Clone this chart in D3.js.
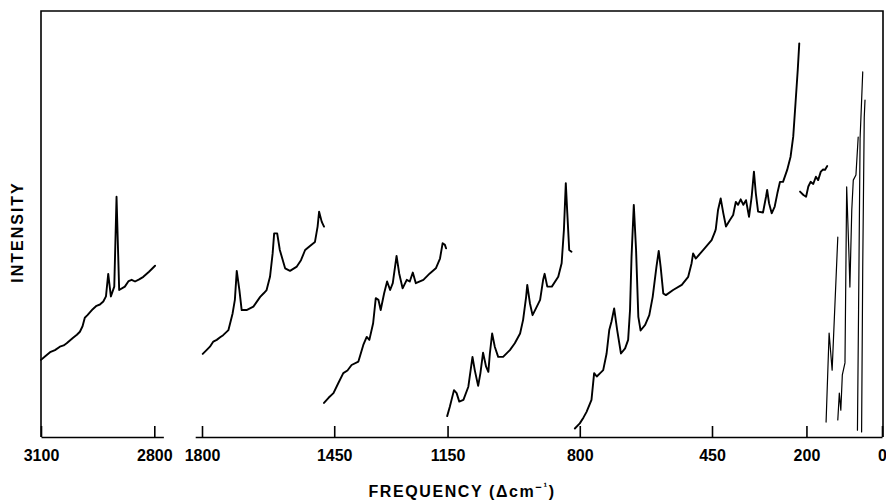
<!DOCTYPE html>
<html>
<head>
<meta charset="utf-8">
<script src="https://cdn.jsdelivr.net/npm/d3@7"></script>
<style>
  body { margin: 0; background: #fff; }
  svg { display: block; }
  .axis text { font-family: "Liberation Sans Narrow", "Arial Narrow", "Liberation Sans", sans-serif; font-weight: bold; font-size: 16px; fill: #000; }
  .axis path, .axis line { stroke: #000; stroke-width: 1.6px; }
  .title { font-family: "Liberation Sans", Arial, sans-serif; font-weight: bold; font-size: 16px; fill: #000; }
</style>
</head>
<body>
<svg id="chart" width="886" height="501"></svg>
<script>
// Raman spectrum, broken frequency axis (Δcm-1), intensity in arbitrary units (0-100)

// tick labels of the two axis pieces
const ticksHigh = [3100, 2800];
const ticksLow = [1800, 1450, 1150, 800, 450, 200, 0];

// each trace: [frequency, intensity]
const trace2900 = [[3100,18.1],[3088,19.0],[3076,19.9],[3063,20.4],[3050,21.2],[3040,21.5],[3032,22.0],[3015,23.3],
  [3005,24.0],[2997,24.7],[2990,26.0],[2984,28.0],[2977,28.6],[2963,30.0],[2953,30.8],[2944,31.1],[2935,31.8],
  [2928,33.0],[2922,38.3],[2915,33.0],[2906,35.3],[2900,56.4],[2893,34.5],[2878,35.3],[2868,36.6],[2860,36.9],
  [2851,36.5],[2840,37.0],[2829,37.6],[2814,38.8],[2798,40.2]];
const trace1600 = [[1798,19.5],[1788,20.4],[1779,21.2],[1770,22.4],[1761,22.8],[1752,23.4],[1744,23.9],[1730,25.1],
  [1719,29.0],[1713,32.2],[1708,39.0],[1701,34.5],[1695,29.8],[1682,29.8],[1664,30.6],[1646,32.9],[1636,33.8],
  [1629,34.5],[1620,37.6],[1613,43.1],[1609,47.8],[1601,47.8],[1594,43.9],[1580,39.6],[1567,39.0],[1549,40.0],
  [1538,41.5],[1527,43.9],[1515,44.8],[1501,45.8],[1494,49.4],[1490,52.9],[1483,50.5],[1477,49.4]];
const trace1300 = [[1477,8.0],[1465,9.2],[1452,10.3],[1440,12.5],[1426,15.0],[1415,15.6],[1404,16.9],[1386,17.7],
  [1373,21.6],[1364,23.5],[1357,22.8],[1347,26.7],[1340,32.6],[1333,32.2],[1327,29.8],[1318,33.7],[1310,36.5],
  [1302,34.5],[1295,36.1],[1285,42.5],[1278,38.4],[1269,34.9],[1258,36.9],[1250,36.5],[1242,38.6],[1234,36.1],
  [1214,36.9],[1197,38.4],[1181,39.6],[1170,41.9],[1163,45.5],[1157,45.1],[1154,44.3]];
const trace1000 = [[1151,4.9],[1144,7.1],[1133,11.0],[1126,10.3],[1119,8.3],[1108,8.7],[1095,11.8],[1084,18.8],
  [1078,15.7],[1069,12.0],[1063,15.0],[1056,19.8],[1048,16.5],[1042,15.3],[1038,19.6],[1032,24.3],[1025,21.2],
  [1016,18.8],[1003,18.8],[985,20.4],[972,22.0],[958,24.3],[950,27.5],[942,32.9],[939,35.7],[932,31.4],[925,28.6],
  [916,30.2],[905,32.2],[897,36.9],[893,38.3],[886,35.3],[874,35.3],[857,37.6],[848,40.8],[842,48.6],[837,59.6],
  [833,52.5],[828,43.9],[822,43.5]];
const trace500 = [[813,2.0],[800,3.2],[790,4.6],[782,5.9],[769,8.7],[762,15.0],[755,14.2],[746,15.0],[738,15.7],
  [729,19.6],[722,25.1],[716,27.1],[709,30.2],[701,25.1],[691,19.6],[680,20.8],[672,22.8],[667,29.8],[663,42.3],
  [657,54.5],[651,43.9],[645,28.2],[639,25.0],[627,26.3],[616,28.6],[607,32.9],[597,40.0],[591,43.7],[586,40.0],
  [579,33.7],[572,33.3],[553,34.5],[530,35.7],[513,37.6],[504,40.8],[500,43.1],[493,41.9],[473,43.9],[451,46.2],
  [442,48.2],[440,48.8],[434,53.3],[427,56.0],[420,52.5],[413,49.4],[403,50.9],[394,52.1],[387,55.2],[381,54.5],
  [374,55.8],[367,54.5],[360,55.6],[352,51.7],[345,56.4],[339,62.3],[334,57.2],[328,52.9],[315,52.7],[307,56.4],
  [304,58.0],[299,54.9],[292,52.5],[284,54.1],[277,57.2],[270,59.9],[262,59.9],[251,62.7],[242,65.8],[235,70.5],
  [229,78.3],[223,86.2],[219,92.4]];
const trace180 = [[217,57.6],[208,56.8],[201,56.4],[195,58.8],[189,59.9],[182,59.4],[175,61.1],[169,60.3],
  [162,62.3],[156,62.8],[151,62.7],[145,63.6]];
// Rayleigh wing, several passes at lower gain
const wingA = [[148,3.5],[140,24.4],[132,15.7],[117,46.9]];
const wingB = [[117,4.0],[113,10.3],[109,6.3],[105,14.6],[98,17.4],[93.5,58.7],[87,41.5],[85,35.2],[80,53.3],
  [76,60.3],[69,61.5],[63,70.4]];
const wingC = [[65,1.6],[62,30],[58,70],[51,85.7]];
const wingD = [[54,1.2],[51,40],[47,75],[45,79.1]];

const svg = d3.select("#chart");

const margin = {top: 11, bottom: 437, left: 41, right: 883};

let xHigh = d3.scaleLinear().domain([3100, 2800]).range([41, 154.3]);
let xLow = d3.scaleLinear().domain([1800, 0]).range([202, 882]);
let y = d3.scaleLinear().domain([0, 100]).range([margin.bottom, margin.top]);

// frame (left, top, right)
svg.append("path")
    .attr("d", `M${margin.left},${margin.bottom}V${margin.top}H${margin.right}V${margin.bottom}`)
    .attr("fill", "none")
    .attr("stroke", "#000")
    .attr("stroke-width", 1.6);

// axis pieces, the line runs a bit past the outer ticks
let xHighAxisScale = xHigh.copy().domain([3100, 2776]).range([xHigh(3100), xHigh(2776)]);
svg.append("g")
    .attr("class", "axis")
    .attr("transform", `translate(0,${margin.bottom})`)
    .call(d3.axisBottom(xHighAxisScale).tickValues(ticksHigh).tickSize(-11).tickSizeOuter(0).tickPadding(13)
        .tickFormat(d3.format("d")));

let xLowAxisScale = xLow.copy().domain([1818, 0]).range([xLow(1818), xLow(0)]);
svg.append("g")
    .attr("class", "axis")
    .attr("transform", `translate(0,${margin.bottom})`)
    .call(d3.axisBottom(xLowAxisScale).tickValues(ticksLow).tickSize(-11).tickSizeOuter(0).tickPadding(13)
        .tickFormat(d3.format("d")));

function drawTrace(data, x, width) {
    svg.append("path")
        .datum(data)
        .attr("fill", "none")
        .attr("stroke", "#000")
        .attr("stroke-width", width)
        .attr("stroke-linejoin", "round")
        .attr("stroke-linecap", "round")
        .attr("d", d3.line().x(d => x(d[0])).y(d => y(d[1])));
}

drawTrace(trace2900, xHigh, 1.9);
[trace1600, trace1300, trace1000, trace500, trace180].forEach(t => drawTrace(t, xLow, 1.9));
[wingA, wingB, wingC, wingD].forEach(t => drawTrace(t, xLow, 1.2));

// axis titles
let xt = svg.append("text")
    .attr("class", "title")
    .attr("x", 462)
    .attr("y", 497)
    .attr("text-anchor", "middle")
    .style("letter-spacing", "1.6px");
xt.append("tspan").text("FREQUENCY (\u0394cm");
xt.append("tspan").attr("dy", -6).style("font-size", "11px").text("\u2212\u00b9");
xt.append("tspan").attr("dy", 6).text(")");

svg.append("text")
    .attr("class", "title")
    .attr("transform", "translate(22.5,232) rotate(-90)")
    .attr("text-anchor", "middle")
    .style("letter-spacing", "2px")
    .text("INTENSITY");
</script>
</body>
</html>
